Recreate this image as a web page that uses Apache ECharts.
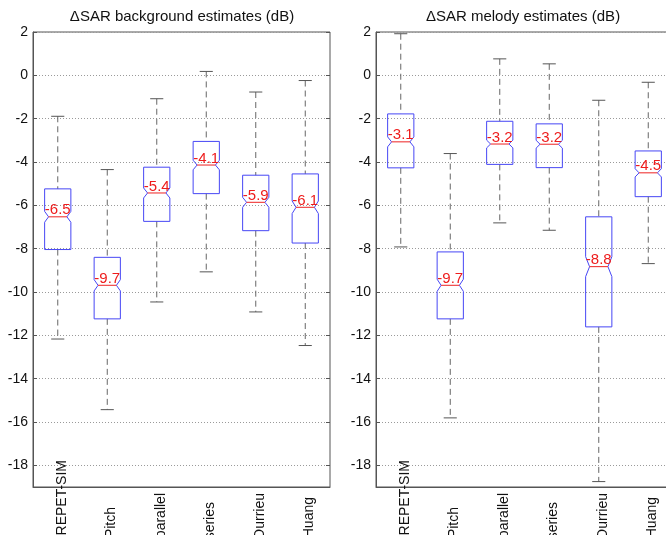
<!DOCTYPE html>
<html>
<head>
<meta charset="utf-8">
<script src="https://cdn.jsdelivr.net/npm/echarts@6/dist/echarts.min.js"></script>
<style>
  html, body { margin: 0; padding: 0; background: #fff; }
  #chart { width: 666px; height: 535px; }
</style>
</head>
<body>
<div id="chart"></div>
<script>
// methods on the x axis
var categories = ['REPET-SIM', 'Pitch', 'parallel', 'series', 'Durrieu', 'Huang'];
var yTicks = [2, 0, -2, -4, -6, -8, -10, -12, -14, -16, -18];

// background estimates (dB)
var bgLow   = [-12.17, -15.43, -10.46, -9.07, -10.92, -12.47];
var bgQ1    = [-8.04, -11.24, -6.74, -5.46, -7.17, -7.74];
var bgMed   = [-6.53, -9.69, -5.43, -4.14, -5.86, -6.09];
var bgQ3    = [-5.24, -8.40, -4.24, -3.05, -4.61, -4.55];
var bgHigh  = [-1.89, -4.35, -1.08, 0.18, -0.77, -0.24];
var bgNotch = [0.25, 0.26, 0.23, 0.22, 0.23, 0.29];

// melody estimates (dB)
var mdLow   = [-7.92, -15.81, -6.81, -7.15, -18.75, -8.69];
var mdQ1    = [-4.27, -11.24, -4.11, -4.26, -11.61, -5.60];
var mdMed   = [-3.07, -9.69, -3.17, -3.18, -8.83, -4.50];
var mdQ3    = [-1.78, -8.15, -2.12, -2.24, -6.53, -3.49];
var mdHigh  = [1.92, -3.61, 0.76, 0.53, -1.15, -0.32];
var mdNotch = [0.23, 0.28, 0.18, 0.18, 0.46, 0.19];

var FONT = '"Liberation Sans", Arial, sans-serif';
var labelPad = [0, 47, 33, 42, 33, 37];

function rows(low, q1, med, q3, high, notch) {
    return categories.map(function (c, i) {
        return [i, low[i], q1[i], med[i], q3[i], high[i], notch[i]];
    });
}

function renderBox(params, api) {
    var i = api.value(0);
    var low = api.value(1), q1 = api.value(2), med = api.value(3);
    var q3 = api.value(4), high = api.value(5), notch = api.value(6);
    var y = function (v) { return api.coord([i, v])[1]; };
    var cx = api.coord([i, med])[0];
    var band = api.size([1, 0])[0];
    var hw = band * 0.265;
    var nw = hw * 0.7;
    var cw = hw * 0.5;
    var dash = { stroke: '#666', lineWidth: 1, lineDash: [6, 4] };
    var cap = { stroke: '#555', lineWidth: 1 };
    return {
        type: 'group',
        children: [
            { type: 'line', shape: { x1: cx, y1: y(high), x2: cx, y2: y(q3) }, style: dash },
            { type: 'line', shape: { x1: cx, y1: y(q1), x2: cx, y2: y(low) }, style: dash },
            { type: 'line', shape: { x1: cx - cw, y1: y(high), x2: cx + cw, y2: y(high) }, style: cap },
            { type: 'line', shape: { x1: cx - cw, y1: y(low), x2: cx + cw, y2: y(low) }, style: cap },
            {
                type: 'polygon',
                shape: {
                    points: [
                        [cx - hw, y(q3)], [cx + hw, y(q3)], [cx + hw, y(med + notch)],
                        [cx + nw, y(med)], [cx + hw, y(med - notch)], [cx + hw, y(q1)],
                        [cx - hw, y(q1)], [cx - hw, y(med - notch)], [cx - nw, y(med)],
                        [cx - hw, y(med + notch)]
                    ]
                },
                style: { fill: 'none', stroke: '#4646f5', lineWidth: 1 }
            },
            { type: 'line', shape: { x1: cx - nw, y1: y(med), x2: cx + nw, y2: y(med) }, style: { stroke: '#ee2222', lineWidth: 1 } },
            {
                type: 'text',
                style: {
                    text: med.toFixed(1), x: cx, y: y(med) + 1,
                    align: 'center', verticalAlign: 'bottom',
                    fill: '#ee1c1c', font: '15px ' + FONT
                }
            }
        ]
    };
}

var rich = {};
labelPad.forEach(function (p, i) {
    rich['p' + i] = { fontSize: 14, fontFamily: FONT, color: '#111', padding: [8, p, 0, 0] };
});

function xAxisFor(gi) {
    return {
        type: 'category', gridIndex: gi, data: categories, boundaryGap: true,
        axisLine: { onZero: false, lineStyle: { color: '#555' } },
        axisTick: { show: false },
        splitLine: { show: false },
        axisLabel: {
            rotate: 90, interval: 0, margin: -27,
            formatter: function (v, idx) { return '{p' + idx + '|' + v + '}'; },
            rich: rich
        }
    };
}

function yAxisFor(gi, side) {
    var left = side === 'left';
    return {
        type: 'value', gridIndex: gi, position: side, min: -19, max: 2,
        axisLine: { show: left, lineStyle: { color: '#555' } },
        axisTick: { show: true, inside: true, length: 4, customValues: yTicks, lineStyle: { color: '#555' } },
        axisLabel: { show: left, customValues: yTicks, fontSize: 14, fontFamily: FONT, color: '#111', margin: 5 },
        splitLine: { show: left, lineStyle: { type: [1, 2], color: '#9a9a9a' } }
    };
}

var chart = echarts.init(document.getElementById('chart'));
var option = {
    animation: false,
    title: [
        { text: '\u0394SAR background estimates (dB)', left: 182, top: 9, padding: 0, textAlign: 'center',
          textStyle: { fontSize: 15, fontWeight: 'normal', color: '#111', fontFamily: FONT } },
        { text: '\u0394SAR melody estimates (dB)', left: 523, top: 9, padding: 0, textAlign: 'center',
          textStyle: { fontSize: 15, fontWeight: 'normal', color: '#111', fontFamily: FONT } }
    ],
    grid: [
        { left: 33, top: 32, width: 297, height: 455, outerBoundsMode: 'none', containLabel: false,
          show: true, borderColor: '#555', borderWidth: 1 },
        { left: 376, top: 32, width: 297, height: 455, outerBoundsMode: 'none', containLabel: false,
          show: true, borderColor: '#555', borderWidth: 1 }
    ],
    xAxis: [xAxisFor(0), xAxisFor(1)],
    yAxis: [yAxisFor(0, 'left'), yAxisFor(0, 'right'), yAxisFor(1, 'left'), yAxisFor(1, 'right')],
    series: [
        { type: 'custom', xAxisIndex: 0, yAxisIndex: 0, renderItem: renderBox,
          encode: { x: 0, y: [1, 2, 3, 4, 5] }, data: rows(bgLow, bgQ1, bgMed, bgQ3, bgHigh, bgNotch) },
        { type: 'custom', xAxisIndex: 1, yAxisIndex: 2, renderItem: renderBox,
          encode: { x: 0, y: [1, 2, 3, 4, 5] }, data: rows(mdLow, mdQ1, mdMed, mdQ3, mdHigh, mdNotch) }
    ]
};
chart.setOption(option);
</script>
</body>
</html>
